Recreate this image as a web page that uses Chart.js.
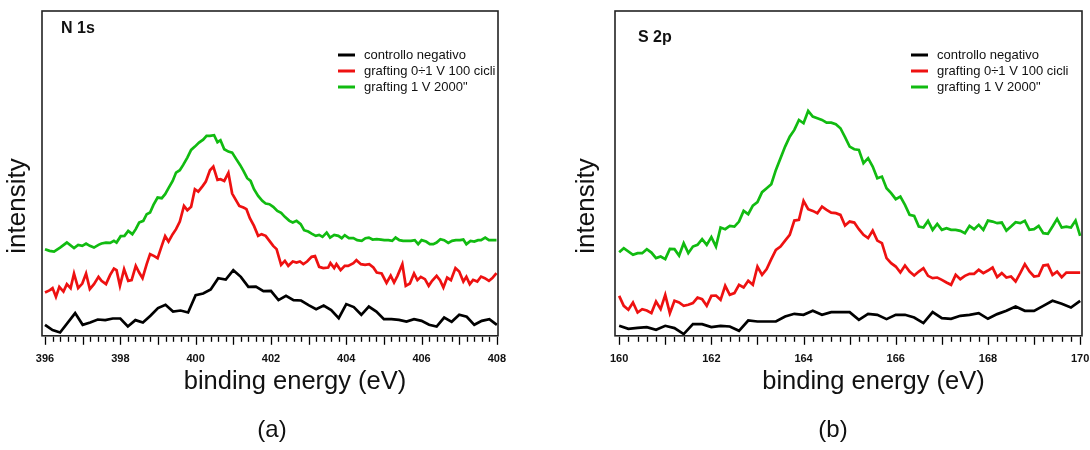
<!DOCTYPE html>
<html>
<head>
<meta charset="utf-8">
<script src="https://cdn.jsdelivr.net/npm/chart.js@4.4.1/dist/chart.umd.min.js"></script>
<style>
  body { margin: 0; background: #fff; }
  .panel { position: absolute; top: 0; width: 545px; height: 450px; }
</style>
</head>
<body>
<div class="panel" style="left:0"><canvas id="N1S" width="545" height="450"></canvas></div>
<div class="panel" style="left:545px"><canvas id="S2P" width="545" height="450"></canvas></div>
<script>
// ---- N 1s ----
var nTicks = [396, 398, 400, 402, 404, 406, 408];

var nBlackE = [396.0, 396.2, 396.4, 396.8, 397.0, 397.2, 397.4, 397.6, 397.8, 398.0,
  398.2, 398.4, 398.6, 398.8, 399.0, 399.2, 399.4, 399.6, 399.8, 400.0,
  400.2, 400.4, 400.6, 400.8, 401.0, 401.2, 401.4, 401.6, 401.8, 402.0,
  402.2, 402.4, 402.6, 402.8, 403.0, 403.2, 403.4, 403.6, 403.8, 404.0,
  404.2, 404.4, 404.6, 404.8, 405.0, 405.2, 405.4, 405.6, 405.8, 406.0,
  406.2, 406.4, 406.6, 406.8, 407.0, 407.2, 407.4, 407.6, 407.8, 408.0];
var nBlackI = [11, 5.7, 3.3, 22.7, 11, 13.3, 16.3, 15.7, 17.3, 17.3,
  9.3, 15.7, 13.3, 20, 27.7, 31, 24.3, 25.3, 23.3, 40.7,
  42.3, 46.3, 57.7, 56.3, 65.7, 59, 49, 49.3, 44.7, 45,
  35.7, 40, 35.7, 35.3, 30.7, 26.7, 30.3, 25.7, 17.7, 31.7,
  28.7, 21, 29.3, 24.3, 16.7, 16.7, 16, 14.3, 16.7, 15,
  11, 9.3, 18.3, 14, 21, 19, 11, 15, 16.7, 11];

var nRedE = [396.00, 396.13, 396.20, 396.29, 396.38, 396.49, 396.58, 396.68, 396.77, 396.88,
  396.99, 397.09, 397.19, 397.30, 397.42, 397.50, 397.62, 397.73, 397.83, 397.90,
  397.99, 398.10, 398.21, 398.30, 398.41, 398.50, 398.59, 398.70, 398.79, 398.89,
  398.99, 399.10, 399.19, 399.28, 399.39, 399.48, 399.58, 399.69, 399.78, 399.88,
  399.98, 400.07, 400.19, 400.27, 400.38, 400.47, 400.58, 400.66, 400.76, 400.87,
  400.97, 401.07, 401.16, 401.27, 401.35, 401.44, 401.55, 401.66, 401.75, 401.86,
  401.96, 402.06, 402.15, 402.27, 402.37, 402.46, 402.58, 402.68, 402.77, 402.86,
  402.96, 403.08, 403.17, 403.28, 403.39, 403.52, 403.58, 403.68, 403.74, 403.85,
  403.96, 404.05, 404.19, 404.27, 404.39, 404.50, 404.61, 404.72, 404.81, 404.94,
  405.07, 405.18, 405.27, 405.36, 405.49, 405.58, 405.69, 405.80, 405.89, 405.98,
  406.09, 406.19, 406.28, 406.40, 406.49, 406.58, 406.68, 406.78, 406.90, 407.00,
  407.11, 407.19, 407.28, 407.37, 407.48, 407.58, 407.68, 407.79, 407.88, 407.99];
var nRedI = [43.3, 45.7, 47.7, 39, 49, 44.3, 51.7, 47.7, 62.3, 47.7,
  52.3, 62.3, 46.7, 51.7, 59, 55, 51.7, 61, 67.3, 65.7,
  50, 66.7, 55, 55.7, 70, 63.3, 57.7, 71.7, 81.7, 80,
  77.7, 90, 99.7, 94.3, 101.7, 106.7, 114.3, 130, 125.7, 129,
  146.7, 144.3, 150, 154.3, 165.7, 169.3, 156, 156.7, 155, 163,
  142.3, 135.7, 130, 128.3, 126.7, 117.7, 110, 100, 101.7, 100,
  95, 90, 86.7, 71, 75, 70, 74.3, 73.3, 74.3, 71.7,
  74.3, 79, 79.7, 69, 67.7, 68.3, 72.7, 67.7, 71.7, 65.7,
  70, 70, 72.7, 75.7, 71.7, 71, 71.7, 68.3, 63.3, 62.3,
  53, 60.3, 53.3, 60, 71.7, 50, 52.3, 62.3, 55.7, 59,
  56.7, 50, 55, 60, 55.7, 48.3, 58.3, 55.7, 67.7, 64.3,
  54.3, 59, 51.7, 56, 54.3, 59.3, 57.7, 55, 57.7, 62.7];

var nGreenE = [396.00, 396.12, 396.24, 396.40, 396.58, 396.77, 396.88, 396.99, 397.09, 397.19,
  397.30, 397.42, 397.50, 397.62, 397.73, 397.83, 397.90, 398.01, 398.11, 398.21,
  398.32, 398.41, 398.50, 398.61, 398.70, 398.79, 398.88, 398.99, 399.10, 399.19,
  399.28, 399.39, 399.48, 399.58, 399.67, 399.78, 399.88, 399.98, 400.09, 400.20,
  400.29, 400.38, 400.49, 400.58, 400.66, 400.76, 400.87, 400.97, 401.07, 401.18,
  401.27, 401.37, 401.46, 401.55, 401.66, 401.77, 401.86, 401.96, 402.06, 402.17,
  402.27, 402.37, 402.49, 402.58, 402.68, 402.79, 402.88, 402.99, 403.08, 403.19,
  403.28, 403.37, 403.48, 403.57, 403.68, 403.79, 403.88, 403.96, 404.07, 404.19,
  404.29, 404.41, 404.51, 404.60, 404.70, 404.81, 404.92, 405.01, 405.12, 405.22,
  405.31, 405.41, 405.51, 405.62, 405.72, 405.82, 405.91, 406.00, 406.12, 406.22,
  406.31, 406.40, 406.50, 406.60, 406.71, 406.81, 406.91, 407.02, 407.11, 407.19,
  407.30, 407.40, 407.50, 407.58, 407.69, 407.79, 407.99];
var nGreenI = [86.7, 85, 84.3, 88.3, 93.3, 87.7, 91, 90, 92.3, 90,
  88.3, 91, 92.3, 93.3, 93, 95, 93.3, 99.7, 100, 105,
  101.7, 106.7, 113.3, 115, 121.7, 123.3, 131, 138.3, 137.7, 141.7,
  147.7, 155, 163.3, 165.7, 171, 178.3, 186, 189.3, 193.3, 196.3,
  200, 200, 200.7, 193.7, 195.7, 186.7, 184.3, 183.3, 177.3, 171,
  165, 157.7, 155, 146.7, 140, 135, 132.3, 131.7, 129, 125,
  123, 119, 115, 113.3, 115, 111.7, 105.7, 104.3, 102.3, 100,
  101, 99, 103.3, 98.3, 101, 100, 97.7, 100.7, 97.7, 97.7,
  95.7, 95, 97.7, 98.3, 96.3, 96.7, 96.3, 95.7, 95.7, 95,
  98.3, 95.7, 95, 95, 95, 95.7, 91.7, 95.7, 94.3, 91.7,
  91.7, 93.3, 96.7, 95.7, 93, 95, 95.7, 95.7, 96.3, 91.7,
  95, 94.3, 95.7, 95.7, 98.3, 95.7, 95.7];

// ---- S 2p ----
var sTicks = [160, 162, 164, 166, 168, 170];

var sCoarseE = [160.0, 160.2, 160.4, 160.6, 160.8, 161.0, 161.2, 161.4, 161.6, 161.8,
  162.0, 162.2, 162.4, 162.6, 162.8, 163.0, 163.2, 163.4, 163.6, 163.8,
  164.0, 164.2, 164.4, 164.6, 164.8, 165.0, 165.2, 165.4, 165.6, 165.8,
  166.0, 166.2, 166.4, 166.6, 166.8, 167.0, 167.2, 167.4, 167.6, 167.8,
  168.0, 168.2, 168.4, 168.6, 168.8, 169.0, 169.2, 169.4, 169.6, 169.8, 170.0];
var sBlackI = [10, 7, 8, 8.7, 6, 10, 7.7, 1.7, 11.7, 11.7,
  8.7, 10, 9.3, 5, 15.3, 14.3, 14.3, 14.3, 19.3, 22,
  21, 25, 21, 23.7, 23.7, 23.7, 16, 22, 21, 16.7,
  21, 21, 18.3, 12.7, 23.7, 17.7, 17, 20, 21, 22.7,
  17, 21.7, 25, 29.3, 25, 25, 30, 35, 32, 28.3, 35];

var sFineE = [160.0, 160.1, 160.2, 160.3, 160.4, 160.5, 160.6, 160.7, 160.8, 160.9,
  161.0, 161.1, 161.2, 161.3, 161.4, 161.5, 161.6, 161.7, 161.8, 161.9,
  162.0, 162.1, 162.2, 162.3, 162.4, 162.5, 162.6, 162.7, 162.8, 162.9,
  163.0, 163.1, 163.2, 163.3, 163.4, 163.5, 163.6, 163.7, 163.8, 163.9,
  164.0, 164.1, 164.2, 164.3, 164.4, 164.5, 164.6, 164.7, 164.8, 164.9,
  165.0, 165.1, 165.2, 165.3, 165.4, 165.5, 165.6, 165.7, 165.8, 165.9,
  166.0, 166.1, 166.2, 166.3, 166.4, 166.5, 166.6, 166.7, 166.8, 166.9,
  167.0, 167.1, 167.2, 167.3, 167.4, 167.5, 167.6, 167.7, 167.8, 167.9,
  168.0, 168.1, 168.2, 168.3, 168.4, 168.5, 168.6, 168.7, 168.8, 168.9,
  169.0, 169.1, 169.2, 169.3, 169.4, 169.5, 169.6, 169.7, 169.8, 169.9, 170.0];
var sRedI = [40, 30, 26, 33.3, 23.3, 26.7, 25.3, 22.7, 34.3, 26.7,
  41, 22.7, 35, 33.3, 30, 31, 32.7, 38.3, 36.7, 30,
  40, 40.3, 36, 50, 41, 42.7, 51, 48.3, 55, 51,
  69.3, 61, 66.7, 76.7, 86, 89.3, 95.3, 101, 115.3, 116,
  135, 126.7, 125, 122.7, 129.3, 126, 123.3, 122.7, 121, 110.3,
  114.3, 113.3, 106.7, 101, 97.7, 105.3, 95.3, 92.7, 77.7, 72.7,
  69.3, 63.3, 70.3, 64.3, 60.3, 64.3, 67.7, 60, 57.7, 58.3,
  56, 53.3, 51, 61, 56.7, 60, 62, 62, 66, 62.7,
  65.3, 68.3, 58.7, 62.7, 58.3, 59.3, 54.3, 62.7, 71.7, 64.3,
  59.3, 60, 70.3, 71, 61, 64.3, 58.7, 63.3, null, null, 63.3];
var sGreenI = [83.7, 87.7, null, 81, 82.7, 82.7, 86.7, 83.3, 77.7, 79.3,
  76.7, 87, 86.7, 80.3, 92.7, 82.7, 89.3, 91, 96.7, 91,
  98.7, 89.3, 108.3, 106.7, 110, 109.3, 114.3, 125, 121.7, 130.3,
  133.7, 143.7, 147.7, 151.7, 166, 177.7, 189.3, 199.3, 206, 216,
  212.7, 225, 219.3, 217.7, 216, 213.3, 213.3, 211.7, 207.7, 198.7,
  189.3, 186.7, 186, 172.7, 177.7, 169.3, 157.7, 159.3, 147.7, 142.7,
  136.7, 139.3, 131, 121, 120, 109.3, 108.3, 115, 106, 112,
  106, 107.7, 106, 106, 105, 102.7, 110, 106.7, 111, 106,
  115.3, 114.3, 112.7, 113.3, 105.3, 109.3, 113.7, 112.7, 115, 106,
  106.7, 110, 102.7, 102, 109.3, 117, 108.3, 109.3, 108.3, 115.3, 100];

var seriesNames = ['controllo negativo', 'grafting 0\u00f71 V 100 cicli', 'grafting 1 V 2000"'];
var seriesColors = ['#000000', '#ee1111', '#11bb11'];

var fontFamily = '"Liberation Sans", Arial, sans-serif';

function pairs(xs, ys) {
    return xs.map(function (x, i) { return { x: x, y: ys[i] }; });
}

function lineSet(idx, pts) {
    return {
        label: seriesNames[idx],
        data: pts,
        borderColor: seriesColors[idx],
        borderWidth: 2.7,
        pointRadius: 0,
        tension: 0,
        spanGaps: true,
        fill: false
    };
}

// frame, tick marks, in-plot legend and axis captions
var xpsDecor = {
    id: 'xpsDecor',
    afterDraw: function (chart, args, o) {
        var ctx = chart.ctx, a = chart.chartArea, xs = chart.scales.x;
        ctx.save();

        ctx.strokeStyle = '#222';
        ctx.lineWidth = 1.6;
        ctx.strokeRect(a.left, a.top, a.right - a.left, a.bottom - a.top);

        // tick every 0.2 eV, longer on each whole eV
        ctx.strokeStyle = '#000';
        ctx.lineWidth = 1.3;
        var n = Math.round((o.to - o.from) * 5);
        for (var i = 0; i <= n; i++) {
            var x = Math.round(xs.getPixelForValue(o.from + i * 0.2)) + 0.5;
            var len = (i % 5 === 0) ? 8 : 5;
            ctx.beginPath();
            ctx.moveTo(x, a.bottom + 1);
            ctx.lineTo(x, a.bottom + 1 + len);
            ctx.stroke();
        }

        ctx.fillStyle = '#111';
        ctx.textBaseline = 'middle';

        // peak name
        ctx.textAlign = 'left';
        ctx.font = 'bold 16px ' + fontFamily;
        ctx.fillText(o.peak, a.left + o.peakDx, a.top + o.peakDy);

        // legend
        ctx.font = '13px ' + fontFamily;
        chart.data.datasets.forEach(function (ds, k) {
            var y = a.top + 44 + k * 16;
            ctx.strokeStyle = ds.borderColor;
            ctx.lineWidth = 3;
            ctx.beginPath();
            ctx.moveTo(a.left + 296, y);
            ctx.lineTo(a.left + 313, y);
            ctx.stroke();
            ctx.fillText(ds.label, a.left + 322, y);
        });

        // axis titles
        ctx.textAlign = 'center';
        ctx.font = '25.5px ' + fontFamily;
        ctx.fillText('binding energy (eV)', (a.left + a.right) / 2 + 25, 382);
        ctx.save();
        ctx.translate(a.left - o.yTitleDx, 206);
        ctx.rotate(-Math.PI / 2);
        ctx.font = '26px ' + fontFamily;
        ctx.fillText('intensity', 0, 0);
        ctx.restore();

        ctx.font = '24px ' + fontFamily;
        ctx.fillText(o.caption, o.captionX, 430);
        ctx.restore();
    }
};

function makeOptions(xmin, xmax, ticks, pad, decor) {
    return {
        responsive: false,
        animation: false,
        events: [],
        layout: { padding: pad },
        plugins: {
            legend: { display: false },
            tooltip: { enabled: false },
            xpsDecor: decor
        },
        scales: {
            x: {
                type: 'linear',
                min: xmin,
                max: xmax,
                // tick marks are drawn by xpsDecor; tickLength only sets the label gap
                grid: { display: false, drawTicks: true, tickLength: 17 },
                border: { display: false },
                afterBuildTicks: function (axis) {
                    axis.ticks = ticks.map(function (v) { return { value: v }; });
                },
                ticks: {
                    padding: 0,
                    autoSkip: false,
                    maxRotation: 0,
                    color: '#111',
                    font: { family: fontFamily, size: 11, weight: 'bold' }
                }
            },
            y: { display: false, min: 0, max: 325 }
        }
    };
}

var ctxN1s = document.getElementById('N1S').getContext('2d');
var ctxS2p = document.getElementById('S2P').getContext('2d');

var chartN1s = new Chart(ctxN1s, {
    type: 'line',
    data: {
        datasets: [
            lineSet(0, pairs(nBlackE, nBlackI)),
            lineSet(1, pairs(nRedE, nRedI)),
            lineSet(2, pairs(nGreenE, nGreenI))
        ]
    },
    options: makeOptions(395.92, 408.03, nTicks,
        { left: 42, right: 47, top: 11, bottom: 84 },
        { from: 396, to: 408, peak: 'N 1s', peakDx: 19, peakDy: 18, yTitleDx: 24, caption: '(a)', captionX: 272 }),
    plugins: [xpsDecor]
});

var chartS2p = new Chart(ctxS2p, {
    type: 'line',
    data: {
        datasets: [
            lineSet(0, pairs(sCoarseE, sBlackI)),
            lineSet(1, pairs(sFineE, sRedI)),
            lineSet(2, pairs(sFineE, sGreenI))
        ]
    },
    options: makeOptions(159.91, 170.04, sTicks,
        { left: 70, right: 8, top: 11, bottom: 84 },
        { from: 160, to: 170, peak: 'S 2p', peakDx: 23, peakDy: 27, yTitleDx: 28, caption: '(b)', captionX: 288 }),
    plugins: [xpsDecor]
});
</script>
</body>
</html>
